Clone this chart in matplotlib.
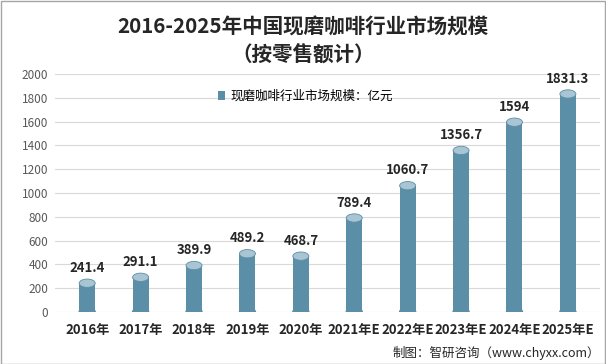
import matplotlib
matplotlib.use("Agg")
import matplotlib.pyplot as plt
from matplotlib.patches import Ellipse, Rectangle

plt.rcParams['font.family'] = ['Noto Sans CJK SC', 'DejaVu Sans']

years = ["2016年", "2017年", "2018年", "2019年", "2020年",
         "2021年E", "2022年E", "2023年E", "2024年E", "2025年E"]
values = [241.4, 291.1, 389.9, 489.2, 468.7, 789.4, 1060.7, 1356.7, 1594, 1831.3]
labels = ["241.4", "291.1", "389.9", "489.2", "468.7", "789.4", "1060.7", "1356.7", "1594", "1831.3"]

col = "#5b8fa8"
cap = "#a9c4d2"

fig = plt.figure(figsize=(6.06, 3.64), dpi=100)
ax = fig.add_axes([0.091, 0.143, 0.899, 0.654])

w = 0.3
x = range(len(values))
bars = ax.bar(x, values, width=w, color=col, zorder=3, label="现磨咖啡行业市场规模：亿元")
# cylinder caps
for i, v in enumerate(values):
    ax.add_patch(Ellipse((i, v), w, 70, color=cap, ec=col, lw=0.6, zorder=4))
    ax.add_patch(Ellipse((i, 0), w, 70, color=col, zorder=2))
    ax.text(i, v + 70, labels[i], ha="center", va="bottom", fontsize=9.5,
            fontweight="bold", color="#262626", zorder=5)

ax.set_xlim(-0.6, 9.6)
ax.set_ylim(0, 2000)
ax.set_yticks(range(0, 2001, 200))
ax.tick_params(axis="y", length=0, labelsize=8.5, labelcolor="#595959", pad=5)
ax.set_xticks(list(x))
ax.set_xticklabels(years, fontsize=9.5, fontweight="bold", color="#262626")
ax.tick_params(axis="x", length=0, pad=8)
ax.grid(axis="y", color="#d9d9d9", lw=0.8, zorder=0)
for s in ax.spines.values():
    s.set_visible(False)

leg = ax.legend(loc="upper center", bbox_to_anchor=(0.46, 0.98), frameon=False,
                fontsize=9, handlelength=0.5, handleheight=0.7, handletextpad=0.5)

fig.text(0.5, 0.925, "2016-2025年中国现磨咖啡行业市场规模", ha="center", va="center",
         fontsize=14.8, fontweight="bold", color="#262626")
fig.text(0.5, 0.852, "（按零售额计）", ha="center", va="center",
         fontsize=14.8, fontweight="bold", color="#262626")
fig.text(0.99, 0.03, "制图：智研咨询（www.chyxx.com）", ha="right", va="center",
         fontsize=9, color="#262626")

fig.add_artist(Rectangle((0.001, 0.001), 0.997, 0.996, transform=fig.transFigure,
                         fill=False, ec="#a6a6a6", lw=1))

fig.savefig("out.png", dpi=100)
